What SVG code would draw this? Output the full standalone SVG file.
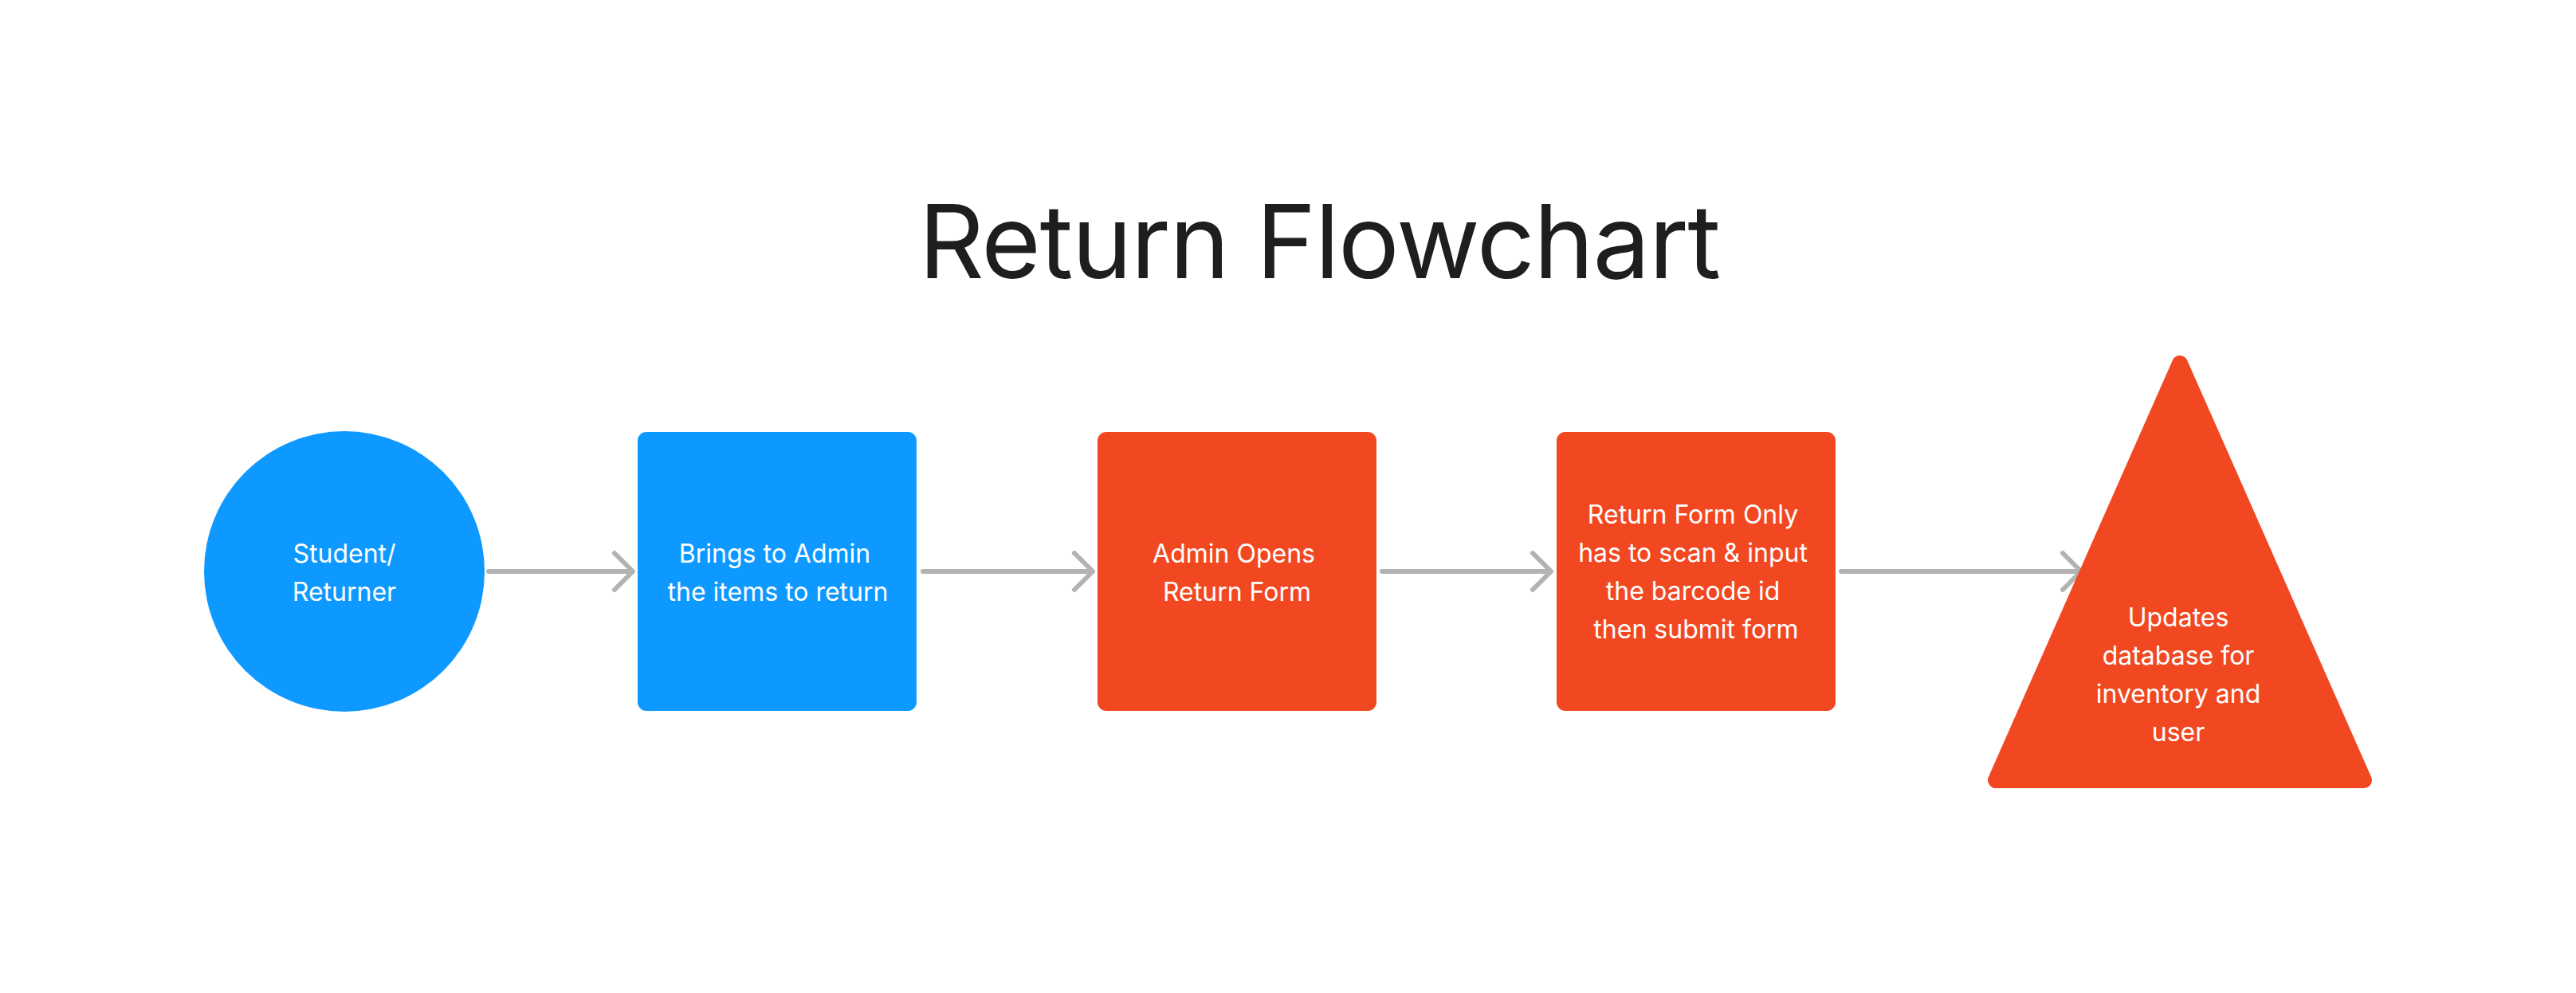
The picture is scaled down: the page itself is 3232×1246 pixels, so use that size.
<svg xmlns="http://www.w3.org/2000/svg" width="3232" height="1246" viewBox="0 0 3232 1246">
<style>
.title{font-family:Inter,"Liberation Sans",sans-serif;font-size:128px;fill:#1e1e1e;text-anchor:middle;letter-spacing:-1.6px}
.lbl{font-family:Inter,"Liberation Sans",sans-serif;font-size:32px;fill:#ffffff;text-anchor:middle}
.blue{fill:#0d99ff}
.red{fill:#f24822}
.conn{stroke:#b3b3b3;stroke-width:6;stroke-linecap:round;stroke-linejoin:round;fill:none}
</style>
<rect width="3232" height="1246" fill="#ffffff"/>
<text class="title" x="1655" y="349">Return Flowchart</text>
<g id="connectors">
<path class="conn" d="M613 717 H793 M771 694 L794 717 L771 740"/>
<path class="conn" d="M1158 717 H1370 M1348 694 L1371 717 L1348 740"/>
<path class="conn" d="M1734 717 H1945 M1923 694 L1946 717 L1923 740"/>
<path class="conn" d="M2310 717 H2610 M2588 694 L2611 717 L2588 740"/>
</g>
<g id="node-student">
<circle class="blue" cx="432" cy="717" r="176"/>
<text class="lbl" x="432" y="706">Student/</text>
<text class="lbl" x="432" y="754">Returner</text>
</g>
<g id="node-brings">
<rect class="blue" x="800" y="542" width="350" height="350" rx="11"/>
<text class="lbl" x="972" y="706">Brings to Admin</text>
<text class="lbl" x="976" y="754">the items to return</text>
</g>
<g id="node-admin">
<rect class="red" x="1377" y="542" width="350" height="350" rx="11"/>
<text class="lbl" x="1548" y="706">Admin Opens</text>
<text class="lbl" x="1552" y="754">Return Form</text>
</g>
<g id="node-returnform">
<rect class="red" x="1953" y="542" width="350" height="350" rx="11"/>
<text class="lbl" x="2124" y="657">Return Form Only</text>
<text class="lbl" x="2124" y="705">has to scan &amp; input</text>
<text class="lbl" x="2124" y="753">the barcode id</text>
<text class="lbl" x="2128" y="801">then submit form</text>
</g>
<g id="node-updates">
<polygon class="red" points="2735,456 2504,979 2966,979" stroke="#f24822" stroke-width="20" stroke-linejoin="round"/>
<text class="lbl" x="2733" y="786">Updates</text>
<text class="lbl" x="2733" y="834">database for</text>
<text class="lbl" x="2733" y="882">inventory and</text>
<text class="lbl" x="2733" y="930">user</text>
</g>
</svg>
